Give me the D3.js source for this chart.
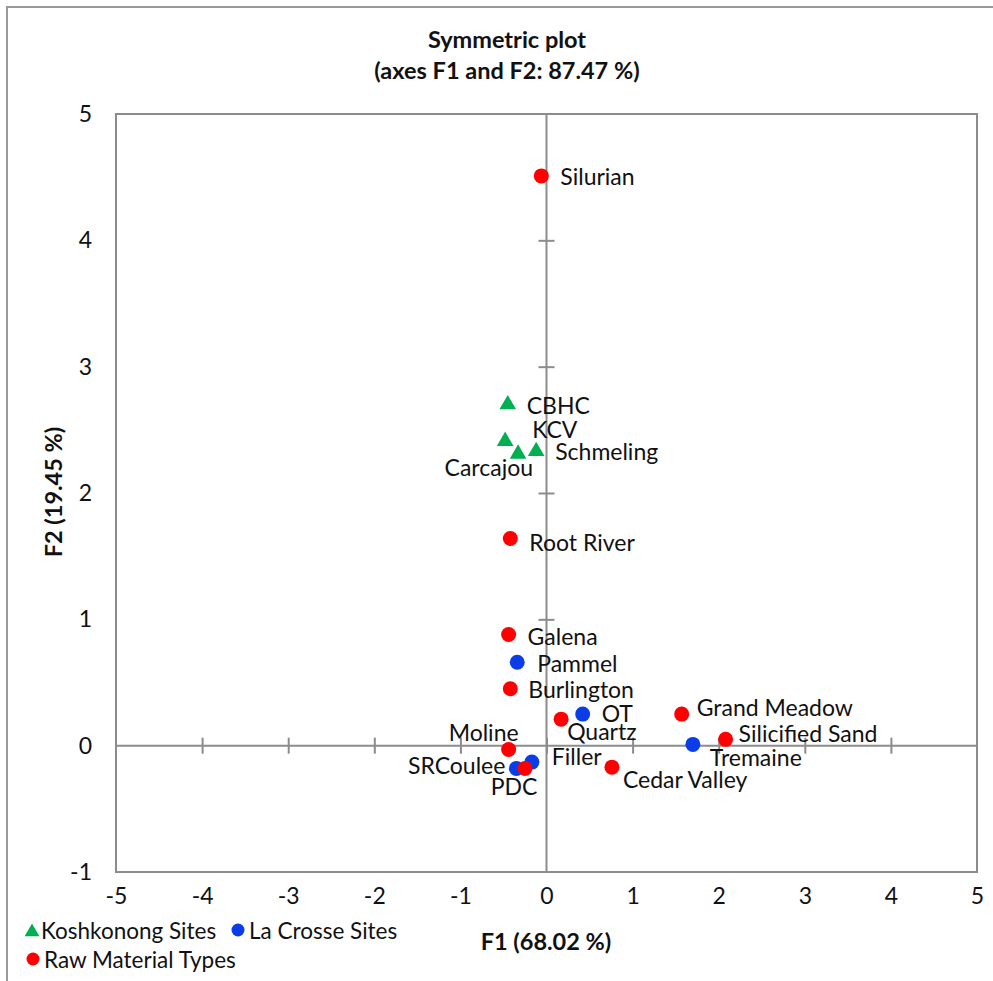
<!DOCTYPE html>
<html>
<head>
<meta charset="utf-8">
<script src="https://cdn.jsdelivr.net/npm/d3@7"></script>
<style>
  html, body { margin: 0; padding: 0; background: #fff; }
  svg { display: block; font-family: Lato, "Open Sans", sans-serif; }
</style>
</head>
<body>
<svg id="chart" width="993" height="981"></svg>
<script>
// Koshkonong sites (triangles)
const koshNames = ["CBHC", "KCV", "Carcajou", "Schmeling"];
const koshF1 = [-0.45, -0.48, -0.33, -0.12];
const koshF2 = [2.70, 2.41, 2.31, 2.33];

// La Crosse sites (blue dots)
const laCrosseNames = ["Pammel", "OT", "Tremaine", "SRCoulee", "Filler"];
const laCrosseF1 = [-0.34, 0.42, 1.70, -0.35, -0.17];
const laCrosseF2 = [0.66, 0.25, 0.01, -0.18, -0.13];

// Raw material types (red dots)
const rawNames = ["Silurian", "Root River", "Galena", "Burlington", "Quartz",
  "Grand Meadow", "Silicified Sand", "Cedar Valley", "Moline", "PDC"];
const rawF1 = [-0.06, -0.42, -0.44, -0.42, 0.17, 1.57, 2.08, 0.76, -0.44, -0.25];
const rawF2 = [4.51, 1.64, 0.88, 0.45, 0.21, 0.25, 0.05, -0.17, -0.03, -0.18];

const xTicks = [-5, -4, -3, -2, -1, 0, 1, 2, 3, 4, 5];
const yTicks = [-1, 0, 1, 2, 3, 4, 5];

const titleLines = ["Symmetric plot", "(axes F1 and F2: 87.47 %)"];
const xTitle = "F1 (68.02 %)";
const yTitle = "F2 (19.45 %)";
const legendItems = ["Koshkonong Sites", "La Crosse Sites", "Raw Material Types"];

// Label placement around each marker: [anchor, dx, dy] in pixels
const labelPlacement = {
  "Silurian": ["start", 19, 1], "CBHC": ["start", 19, 1], "KCV": ["start", 27, -11],
  "Schmeling": ["start", 19, 0], "Carcajou": ["end", 15, 14], "Root River": ["start", 19, 4],
  "Galena": ["start", 19, 2], "Pammel": ["start", 20, 1], "Burlington": ["start", 18, 1],
  "Quartz": ["start", 6, 13], "OT": ["start", 19, 0], "Grand Meadow": ["start", 15, -6],
  "Silicified Sand": ["start", 13, -6], "Tremaine": ["start", 17, 13],
  "Cedar Valley": ["start", 11, 13], "Filler": ["start", 20, -5], "Moline": ["end", 10, -17],
  "SRCoulee": ["end", -11, -3], "PDC": ["middle", -11, 18]
};

const GREEN = "#00b050", BLUE = "#0a3de8", RED = "#ff0000";
const AXIS = "#8c8c8c", TEXT = "#111";
const plain = d => String(d);

const svg = d3.select("#chart");

// outer chart frame
svg.append("rect").attr("x", 7).attr("y", 7).attr("width", 1000).attr("height", 1000)
  .attr("fill", "none").attr("stroke", "#999").attr("stroke-width", 2);

const x = d3.scaleLinear().domain([-5, 5]).range([116, 977]);
const y = d3.scaleLinear().domain([-1, 5]).range([872, 114]);

// plot frame
svg.append("rect").attr("x", x(-5)).attr("y", y(5))
  .attr("width", x(5) - x(-5)).attr("height", y(-1) - y(5))
  .attr("fill", "none").attr("stroke", AXIS).attr("stroke-width", 2);

// zero lines with cross ticks
const g = svg.append("g");
const xAxis0 = d3.axisBottom(x).tickValues(xTicks.filter(v => v > -5 && v < 5))
  .tickSizeInner(16).tickSizeOuter(0).tickFormat("");
g.append("g").attr("transform", `translate(0,${y(0) - 8})`).call(xAxis0)
  .call(s => s.select(".domain").remove())
  .selectAll("line").attr("stroke", AXIS).attr("stroke-width", 2);
g.append("line").attr("x1", x(-5)).attr("x2", x(5)).attr("y1", y(0)).attr("y2", y(0))
  .attr("stroke", AXIS).attr("stroke-width", 2);

const yAxis0 = d3.axisLeft(y).tickValues(yTicks.filter(v => v > 0 && v < 5))
  .tickSizeInner(16).tickSizeOuter(0).tickFormat("");
g.append("g").attr("transform", `translate(${x(0) + 8},0)`).call(yAxis0)
  .call(s => s.select(".domain").remove())
  .selectAll("line").attr("stroke", AXIS).attr("stroke-width", 2);
g.append("line").attr("x1", x(0)).attr("x2", x(0)).attr("y1", y(-1)).attr("y2", y(5))
  .attr("stroke", AXIS).attr("stroke-width", 2);

// tick labels
const xLab = d3.axisBottom(x).tickValues(xTicks).tickSize(0).tickPadding(0).tickFormat(plain);
svg.append("g").attr("transform", `translate(0,${y(-1) + 16})`).call(xLab)
  .call(s => s.select(".domain").remove())
  .selectAll("text").attr("font-size", 23).attr("fill", TEXT).attr("font-family", "Lato")
  .attr("dy", "0.71em");
const yLab = d3.axisLeft(y).tickValues(yTicks).tickSize(0).tickPadding(0).tickFormat(plain);
svg.append("g").attr("transform", `translate(${x(-5) - 24},0)`).call(yLab)
  .call(s => s.select(".domain").remove())
  .selectAll("text").attr("font-size", 23).attr("fill", TEXT).attr("font-family", "Lato");

// titles
svg.append("text").attr("x", 507).attr("y", 48).attr("text-anchor", "middle")
  .attr("font-weight", "bold").attr("font-size", 23.5).attr("fill", TEXT).text(titleLines[0]);
svg.append("text").attr("x", 507).attr("y", 79).attr("text-anchor", "middle")
  .attr("font-weight", "bold").attr("font-size", 23.5).attr("fill", TEXT).text(titleLines[1]);
svg.append("text").attr("x", 546).attr("y", 950).attr("text-anchor", "middle")
  .attr("font-weight", "bold").attr("font-size", 23.5).attr("fill", TEXT).text(xTitle);
svg.append("text").attr("transform", "translate(62,492) rotate(-90)").attr("text-anchor", "middle")
  .attr("font-weight", "bold").attr("font-size", 23.5).attr("fill", TEXT).text(yTitle);

// markers
const tri = d3.symbol().type(d3.symbolTriangle).size(120);
const points = [];
koshNames.forEach((n, i) => points.push({ name: n, f1: koshF1[i], f2: koshF2[i], kind: "tri", color: GREEN }));
laCrosseNames.forEach((n, i) => points.push({ name: n, f1: laCrosseF1[i], f2: laCrosseF2[i], kind: "dot", color: BLUE }));
rawNames.forEach((n, i) => points.push({ name: n, f1: rawF1[i], f2: rawF2[i], kind: "dot", color: RED }));

const marks = svg.append("g");
points.forEach(p => {
  if (p.kind === "tri") {
    marks.append("path").attr("d", tri).attr("fill", p.color)
      .attr("transform", `translate(${x(p.f1)},${y(p.f2)})`);
  } else {
    marks.append("circle").attr("cx", x(p.f1)).attr("cy", y(p.f2)).attr("r", 7.5).attr("fill", p.color);
  }
});

// point labels
const labels = svg.append("g");
points.forEach(p => {
  const [anchor, dx, dy] = labelPlacement[p.name];
  labels.append("text").attr("x", x(p.f1) + dx).attr("y", y(p.f2) + dy)
    .attr("dy", "0.36em").attr("text-anchor", anchor)
    .attr("font-size", 23).attr("fill", TEXT).text(p.name);
});

// legend
const leg = svg.append("g").attr("font-size", 22.5).attr("fill", TEXT);
leg.append("path").attr("d", d3.symbol().type(d3.symbolTriangle).size(95))
  .attr("fill", GREEN).attr("transform", "translate(32,932)");
leg.append("text").attr("x", 41).attr("y", 931).attr("dy", "0.36em").text(legendItems[0]);
leg.append("circle").attr("cx", 238).attr("cy", 930).attr("r", 6.5).attr("fill", BLUE);
leg.append("text").attr("x", 249).attr("y", 931).attr("dy", "0.36em").text(legendItems[1]);
leg.append("circle").attr("cx", 33).attr("cy", 959).attr("r", 6.5).attr("fill", RED);
leg.append("text").attr("x", 44).attr("y", 960).attr("dy", "0.36em").text(legendItems[2]);
</script>
</body>
</html>
